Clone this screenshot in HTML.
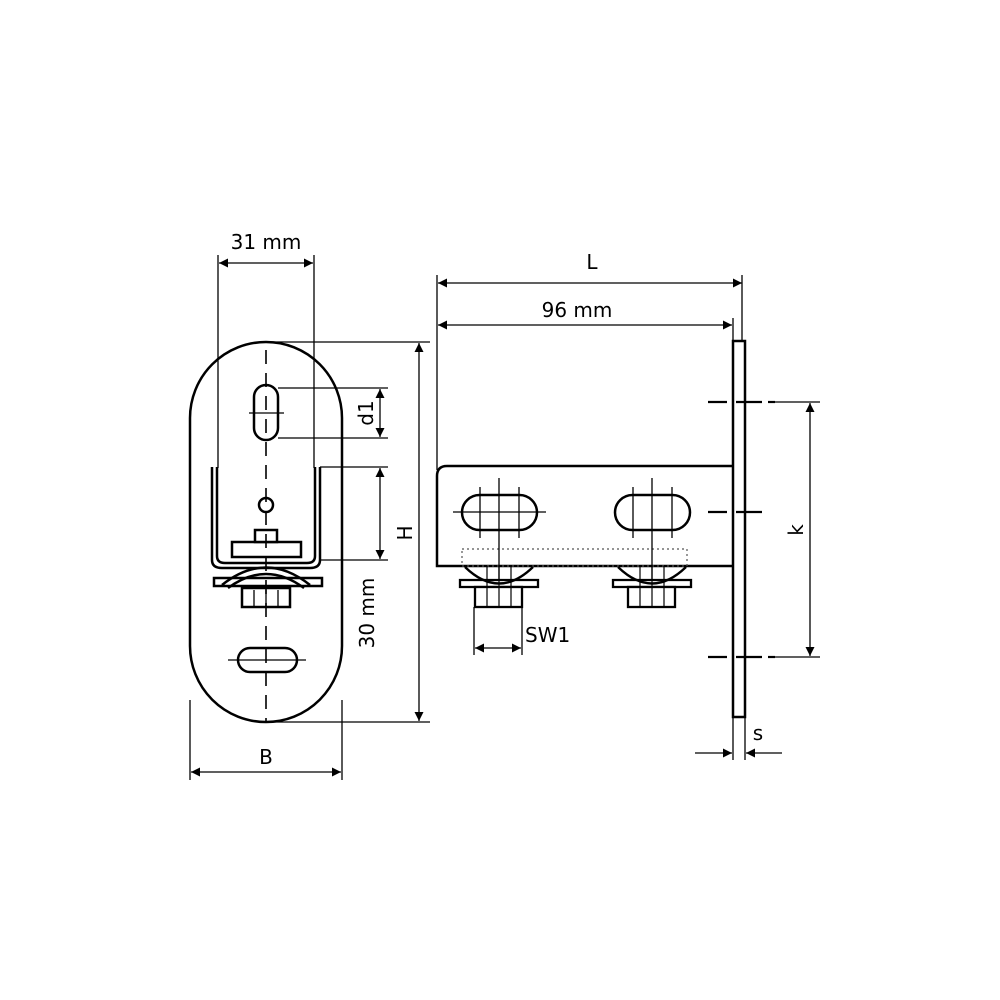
<!DOCTYPE html>
<html><head><meta charset="utf-8"><style>
html,body{margin:0;padding:0;background:#fff}
svg{display:block}
text{font-family:"DejaVu Sans","Liberation Sans",sans-serif;font-size:20px;fill:#000}
</style></head><body>
<svg width="1000" height="1000" viewBox="0 0 1000 1000" xmlns="http://www.w3.org/2000/svg">
<defs>
<marker id="a" viewBox="0 0 10 10" refX="10" refY="5" markerWidth="18" markerHeight="9" markerUnits="userSpaceOnUse" orient="auto-start-reverse"><path d="M0,0L10,5L0,10z" fill="#000"/></marker>
</defs>
<g fill="none" stroke="#000" stroke-width="1.3">
<line x1="218" y1="255" x2="218" y2="468"/>
<line x1="314" y1="255" x2="314" y2="468"/>
<line x1="266" y1="342" x2="430" y2="342"/>
<line x1="266" y1="722" x2="430" y2="722"/>
<line x1="278" y1="388" x2="388" y2="388"/>
<line x1="278" y1="438" x2="388" y2="438"/>
<line x1="320" y1="467" x2="388" y2="467"/>
<line x1="320" y1="560" x2="388" y2="560"/>
<line x1="190" y1="700" x2="190" y2="780"/>
<line x1="342" y1="700" x2="342" y2="780"/>
</g>
<g stroke="#000" stroke-width="1.3" fill="none" marker-start="url(#a)" marker-end="url(#a)">
<line x1="219" y1="263" x2="313" y2="263"/>
<line x1="419" y1="343" x2="419" y2="721"/>
<line x1="380" y1="389" x2="380" y2="437"/>
<line x1="380" y1="468" x2="380" y2="559"/>
<line x1="191" y1="772" x2="341" y2="772"/>
<line x1="438" y1="283" x2="742" y2="283"/>
<line x1="438" y1="325" x2="732" y2="325"/>
<line x1="810" y1="403" x2="810" y2="656"/>
<line x1="475" y1="648" x2="521" y2="648"/>
</g>
<g stroke="#000" stroke-width="1.3" marker-end="url(#a)">
<line x1="695" y1="753" x2="732" y2="753"/>
<line x1="782" y1="753" x2="746" y2="753"/>
</g>
<g fill="none" stroke="#000" stroke-width="2.5">
<path d="M190,418 A76,76 0 0 1 342,418 L342,646 A76,76 0 0 1 190,646 Z"/>
<rect x="254" y="385" width="24" height="55" rx="12"/>
<rect x="238" y="648" width="59" height="24" rx="12"/>
<path d="M212,467 L212,560 Q212,568 222,568 L310,568 Q320,568 320,560 L320,467"/>
<path d="M217,467 L217,556 Q217,563 225,563 L307,563 Q315,563 315,556 L315,467"/>
<circle cx="266" cy="505" r="7"/>
<rect x="232" y="542" width="69" height="15" fill="#fff"/>
<rect x="255" y="530" width="22" height="12" fill="#fff"/>
<path d="M214,578 L322,578 L322,586 L214,586 Z" fill="#fff"/>
<path d="M228,588 Q266,560 304,588" />
<path d="M222,585 Q266,550 310,585"/>
<rect x="242" y="588" width="48" height="19" fill="#fff"/>
</g>
<g stroke="#000" stroke-width="1.3">
<line x1="254" y1="590" x2="254" y2="607"/><line x1="266" y1="590" x2="266" y2="607"/><line x1="278" y1="590" x2="278" y2="607"/>
<line x1="249" y1="413" x2="284" y2="413"/>
<line x1="228" y1="660" x2="306" y2="660"/>
<line x1="266" y1="350" x2="266" y2="722" stroke-dasharray="14,9" stroke-width="1.6"/>
</g>
<g fill="none" stroke="#000" stroke-width="1.3">
<line x1="437" y1="275" x2="437" y2="470"/>
<line x1="742" y1="275" x2="742" y2="342"/>
<line x1="733" y1="318" x2="733" y2="342"/>
<line x1="733" y1="717" x2="733" y2="760"/>
<line x1="745" y1="717" x2="745" y2="760"/>
<line x1="775" y1="402" x2="820" y2="402"/>
<line x1="775" y1="657" x2="820" y2="657"/>
<line x1="474" y1="607" x2="474" y2="655"/>
<line x1="522" y1="607" x2="522" y2="655"/>
</g>
<g stroke="#000" stroke-width="2.2">
<line x1="708" y1="402" x2="727" y2="402"/><line x1="736" y1="402" x2="762" y2="402"/><line x1="768" y1="402" x2="775" y2="402"/>
<line x1="708" y1="512" x2="727" y2="512"/><line x1="736" y1="512" x2="762" y2="512"/>
<line x1="708" y1="657" x2="727" y2="657"/><line x1="736" y1="657" x2="762" y2="657"/><line x1="768" y1="657" x2="775" y2="657"/>
</g>
<g fill="none" stroke="#000" stroke-width="2.5">
<rect x="733" y="341" width="12" height="376"/>
<path d="M733,466 L447,466 Q437,466 437,476 L437,566 L733,566"/>
<rect x="462" y="495" width="75" height="35" rx="17.5"/>
<rect x="615" y="495" width="75" height="35" rx="17.5"/>
</g>
<rect x="462" y="549" width="225" height="17" fill="none" stroke="#555" stroke-width="1.2" stroke-dasharray="2,3"/>
<g stroke="#000" stroke-width="1.3" fill="none">
<line x1="453" y1="512" x2="546" y2="512"/><line x1="499" y1="478" x2="499" y2="607"/>
<line x1="480" y1="487" x2="480" y2="538"/><line x1="519" y1="487" x2="519" y2="538"/>
<line x1="652" y1="478" x2="652" y2="607"/>
<line x1="633" y1="487" x2="633" y2="538"/><line x1="672" y1="487" x2="672" y2="538"/>
</g>
<g fill="#fff" stroke="#000" stroke-width="2.3">
<path d="M460,580 L538,580 L538,587 L460,587 Z"/>
<path d="M465,567 Q499,600 533,567" fill="none"/>
<rect x="475" y="587" width="47" height="20"/>
<path d="M613,580 L691,580 L691,587 L613,587 Z"/>
<path d="M618,567 Q652,600 686,567" fill="none"/>
<rect x="628" y="587" width="47" height="20"/>
</g>
<g stroke="#000" stroke-width="1.2">
<line x1="487" y1="566" x2="487" y2="607"/><line x1="499" y1="566" x2="499" y2="607"/><line x1="511" y1="566" x2="511" y2="607"/>
<line x1="640" y1="566" x2="640" y2="607"/><line x1="652" y1="566" x2="652" y2="607"/><line x1="664" y1="566" x2="664" y2="607"/>
</g>
<text x="266" y="249" text-anchor="middle">31 mm</text>
<text x="592" y="269" text-anchor="middle">L</text>
<text x="577" y="317" text-anchor="middle">96 mm</text>
<text x="266" y="764" text-anchor="middle">B</text>
<text x="758" y="740" text-anchor="middle">s</text>
<text x="525" y="642">SW1</text>
<text transform="translate(373,413) rotate(-90)" text-anchor="middle">d1</text>
<text transform="translate(412,533) rotate(-90)" text-anchor="middle">H</text>
<text transform="translate(374,613) rotate(-90)" text-anchor="middle">30 mm</text>
<text transform="translate(803,530) rotate(-90)" text-anchor="middle">k</text>
</svg>
</body></html>
